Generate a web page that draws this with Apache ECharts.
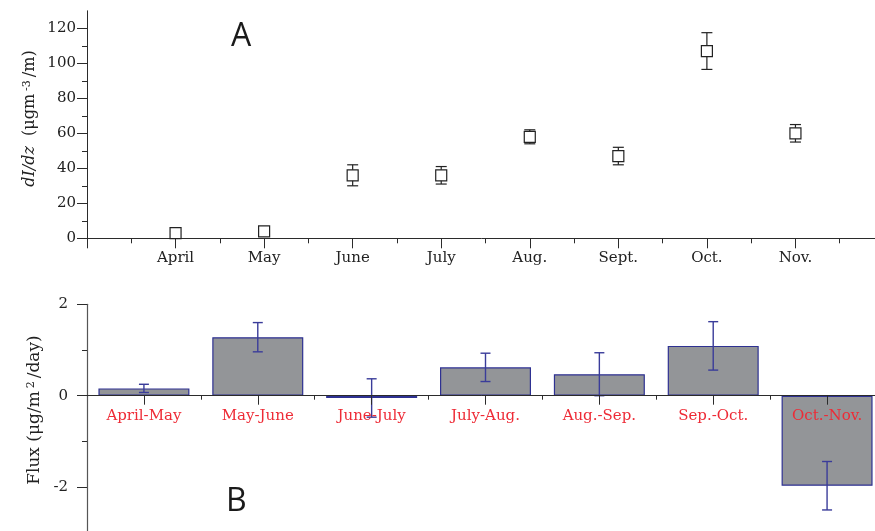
<!DOCTYPE html>
<html>
<head>
<meta charset="utf-8">
<script src="https://cdn.jsdelivr.net/npm/echarts@6/dist/echarts.min.js"></script>
<style>html,body{margin:0;padding:0;background:#fff}#c{width:875px;height:531px}</style>
</head>
<body>
<div id="c"></div>
<script>
// Panel A data
const months = ['April', 'May', 'June', 'July', 'Aug.', 'Sept.', 'Oct.', 'Nov.'];
const dIdz = [3, 4, 36, 36, 58, 47, 107, 60];
const dIdzErr = [1, 1, 6, 5, 4, 5, 10.5, 5];
const topYTicks = [0, 20, 40, 60, 80, 100, 120];
const topYMinor = [10, 30, 50, 70, 90, 110];
const topXMajor = [0, 1, 2, 3, 4, 5, 6, 7, 8, 9];
const topXMinor = [0.5, 1.5, 2.5, 3.5, 4.5, 5.5, 6.5, 7.5, 8.5];
const topXLabels = [1, 2, 3, 4, 5, 6, 7, 8];

// Panel B data
const periods = ['April-May', 'May-June', 'June-July', 'July-Aug.', 'Aug.-Sep.', 'Sep.-Oct.', 'Oct.-Nov.'];
const flux = [0.16, 1.28, -0.05, 0.62, 0.47, 1.09, -1.97];
const fluxErr = [0.09, 0.32, 0.42, 0.31, 0.47, 0.53, 0.53];
const bottomYTicks = [-2, 0, 2];
const bottomYMinor = [-1, 1];
const bottomXMajor = [0, 1, 2, 3, 4, 5, 6];
const bottomXMinor = [0.5, 1.5, 2.5, 3.5, 4.5, 5.5];

const SERIF = '"DejaVu Serif", "Liberation Serif", serif';
const SANS = '"Open Sans", "Noto Sans", sans-serif';
const AXC = '#2b2b2b';

// layout of lower panel (value axis range and plot height)
const B_MIN = -3, B_MAX = 2, B_H = 228.5;
// lift the category axis from the plot bottom up to the zero line
const zeroLift = -((0 - B_MIN) / (B_MAX - B_MIN)) * B_H;

function errRender(color, half, lw) {
  return function (params, api) {
    const x = api.value(0), y = api.value(1), e = api.value(2);
    const t = api.coord([x, y + e]);
    const b = api.coord([x, y - e]);
    const st = { stroke: color, lineWidth: lw };
    return {
      type: 'group',
      children: [
        { type: 'line', shape: { x1: t[0], y1: t[1], x2: b[0], y2: b[1] }, style: st },
        { type: 'line', shape: { x1: t[0] - half, y1: t[1], x2: t[0] + half, y2: t[1] }, style: st },
        { type: 'line', shape: { x1: b[0] - half, y1: b[1], x2: b[0] + half, y2: b[1] }, style: st }
      ]
    };
  };
}

const chart = echarts.init(document.getElementById('c'), null, { renderer: 'canvas' });
const option = {
  animation: false,
  backgroundColor: '#fff',
  grid: [
    { left: 87, top: 10.8, width: 797, height: 227.5, outerBoundsMode: 'none', containLabel: false },
    { left: 87, top: 304.3, width: 797, height: B_H, outerBoundsMode: 'none', containLabel: false }
  ],
  xAxis: [
    {
      gridIndex: 0, type: 'value', min: 0, max: 9, position: 'bottom',
      splitLine: { show: false },
      axisLine: { show: true, onZero: true, lineStyle: { color: AXC, width: 1 } },
      axisTick: { show: true, customValues: topXMajor, length: 10, lineStyle: { color: AXC } },
      axisLabel: { customValues: topXLabels, formatter: v => months[Math.round(v) - 1] || '', margin: 12,
        color: '#222', fontFamily: SERIF, fontSize: 15 }
    },
    {
      gridIndex: 0, type: 'value', min: 0, max: 9, position: 'bottom',
      splitLine: { show: false },
      axisLine: { show: true, onZero: true, lineStyle: { color: 'rgba(0,0,0,0)' } },
      axisTick: { show: true, customValues: topXMinor, length: 5, lineStyle: { color: AXC } },
      axisLabel: { show: false }
    },
    {
      gridIndex: 1, type: 'value', min: -0.5, max: 6.5, position: 'bottom', offset: zeroLift, z: 10,
      splitLine: { show: false },
      axisLine: { show: true, onZero: false, lineStyle: { color: AXC, width: 1 } },
      axisTick: { show: true, customValues: bottomXMajor, length: 9, lineStyle: { color: AXC } },
      axisLabel: { show: true, customValues: bottomXMajor, formatter: v => periods[Math.round(v)] || '',
        margin: 13, color: '#ee2b36', fontFamily: SERIF, fontSize: 15 }
    },
    {
      gridIndex: 1, type: 'value', min: -0.5, max: 6.5, position: 'bottom', offset: zeroLift, z: 10,
      splitLine: { show: false },
      axisLine: { show: true, onZero: false, lineStyle: { color: 'rgba(0,0,0,0)' } },
      axisTick: { show: true, customValues: bottomXMinor, length: 4, lineStyle: { color: AXC } },
      axisLabel: { show: false }
    }
  ],
  yAxis: [
    {
      gridIndex: 0, type: 'value', min: 0, max: 130, position: 'left',
      splitLine: { show: false },
      axisLine: { show: true, onZero: false, lineStyle: { color: AXC, width: 1 } },
      axisTick: { show: true, customValues: topYTicks, length: 10, lineStyle: { color: AXC } },
      axisLabel: { customValues: topYTicks, margin: 11, color: '#222', fontFamily: SERIF, fontSize: 15 },
      name: '{it|dI/dz}  (μgm{sup|-3}/m)',
      nameLocation: 'middle', nameRotate: 90, nameGap: 49, nameMoveOverlap: false,
      nameTextStyle: {
        fontFamily: SERIF, fontSize: 16, color: '#222', padding: [0, 0, 0, 12],
        rich: {
          it: { fontFamily: SERIF, fontSize: 16, fontStyle: 'italic', color: '#222' },
          sup: { fontFamily: SERIF, fontSize: 11, color: '#222', verticalAlign: 'top', padding: [0, 3, 0, 3] }
        }
      }
    },
    {
      gridIndex: 0, type: 'value', min: 0, max: 130, position: 'left',
      splitLine: { show: false },
      axisLine: { show: false, onZero: false },
      axisTick: { show: true, customValues: topYMinor, length: 5, lineStyle: { color: AXC } },
      axisLabel: { show: false }
    },
    {
      gridIndex: 1, type: 'value', min: B_MIN, max: B_MAX, position: 'left',
      splitLine: { show: false },
      axisLine: { show: true, onZero: false, lineStyle: { color: '#555', width: 1.2 } },
      axisTick: { show: true, customValues: bottomYTicks, length: 10, lineStyle: { color: AXC } },
      axisLabel: { customValues: bottomYTicks, margin: 19, color: '#222', fontFamily: SERIF, fontSize: 15 },
      name: 'Flux (μg/m{sup|2}/day)',
      nameLocation: 'middle', nameRotate: 90, nameGap: 44, nameMoveOverlap: false,
      nameTextStyle: {
        fontFamily: SERIF, fontSize: 17, color: '#222', padding: [0, 0, 0, 17],
        rich: {
          sup: { fontFamily: SERIF, fontSize: 11, color: '#222', verticalAlign: 'top', padding: [0, 3, 0, 3] }
        }
      }
    },
    {
      gridIndex: 1, type: 'value', min: B_MIN, max: B_MAX, position: 'left',
      splitLine: { show: false },
      axisLine: { show: false, onZero: false },
      axisTick: { show: true, customValues: bottomYMinor, length: 5, lineStyle: { color: AXC } },
      axisLabel: { show: false }
    }
  ],
  series: [
    {
      type: 'custom', xAxisIndex: 0, yAxisIndex: 0, z: 2,
      renderItem: errRender('#222', 5.5, 1.2),
      encode: { x: 0, y: 1 },
      data: months.map((m, i) => [i + 1, dIdz[i], dIdzErr[i]])
    },
    {
      type: 'scatter', xAxisIndex: 0, yAxisIndex: 0, z: 3,
      symbol: 'rect', symbolSize: 11,
      itemStyle: { color: '#fff', borderColor: '#222', borderWidth: 1.2, opacity: 1 },
      data: months.map((m, i) => [i + 1, dIdz[i]])
    },
    {
      type: 'bar', xAxisIndex: 2, yAxisIndex: 2, z: 2,
      barWidth: 91,
      itemStyle: { color: '#939598', borderColor: '#2e3192', borderWidth: 1.2 },
      data: periods.map((p, i) => [i, flux[i]])
    },
    {
      type: 'custom', xAxisIndex: 2, yAxisIndex: 2, z: 4,
      renderItem: errRender('#3a3c9a', 5, 1.4),
      encode: { x: 0, y: 1 },
      data: periods.map((p, i) => [i, flux[i], fluxErr[i]])
    }
  ],
  graphic: [
    { type: 'text', left: 231, top: 21, style: { text: 'A', fontFamily: SANS, fontSize: 32, fill: '#1a1a1a' } },
    { type: 'text', left: 226, top: 486, style: { text: 'B', fontFamily: SANS, fontSize: 32, fill: '#1a1a1a' } }
  ]
};
chart.setOption(option);
</script>
</body>
</html>
